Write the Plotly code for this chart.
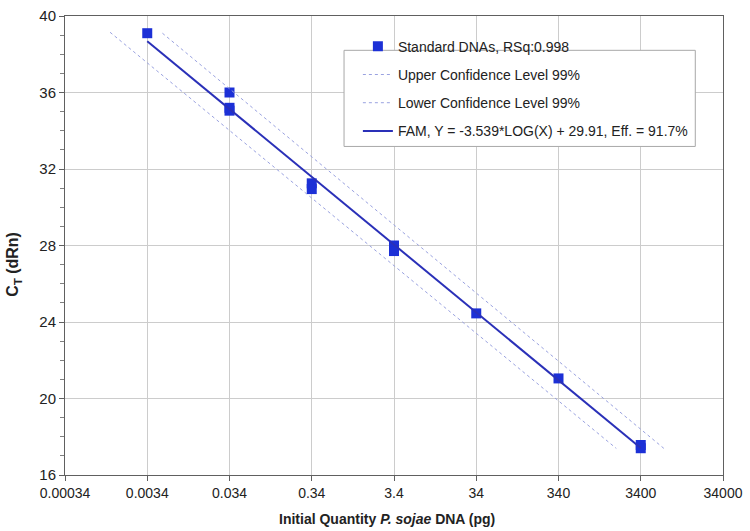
import plotly.graph_objects as go

# Standard DNA data points
std_x = [0.0034, 0.034, 0.034, 0.034, 0.34, 0.34, 3.4, 3.4, 34, 340, 3400, 3400]
std_y = [39.10, 36.0, 35.2, 35.05, 31.25, 30.95, 28.0, 27.71, 24.45, 21.05, 17.57, 17.40]

# Fitted line endpoints (FAM, Y = -3.539*LOG(X) + 29.91)
fit_x = [0.0034, 3400]
fit_y = [38.68, 17.41]

# 99% confidence lines
upper_x = [0.0052, 6500]
upper_y = [39.10, 17.39]
lower_x = [0.0012, 1715]
lower_y = [39.15, 17.39]

tick_vals = [0.00034, 0.0034, 0.034, 0.34, 3.4, 34, 340, 3400, 34000]
tick_text = ["0.00034", "0.0034", "0.034", "0.34", "3.4", "34", "340", "3400", "34000"]
y_ticks = [16, 20, 24, 28, 32, 36, 40]

FONT = "Liberation Sans, Arial, sans-serif"
TXT = "#222222"

fig = go.Figure()
fig.add_trace(go.Scatter(
    x=std_x, y=std_y, mode="markers", name="Standard DNAs, RSq:0.998",
    legendgroup="a",
    marker=dict(symbol="square", size=10, color="#1c30d6"),
))
fig.add_trace(go.Scatter(
    x=upper_x, y=upper_y, mode="lines", name="Upper Confidence Level 99%",
    legendgroup="b",
    line=dict(color="#9aa2e0", width=1, dash="dot"),
))
fig.add_trace(go.Scatter(
    x=lower_x, y=lower_y, mode="lines", name="Lower Confidence Level 99%",
    legendgroup="c",
    line=dict(color="#9aa2e0", width=1, dash="dot"),
))
fig.add_trace(go.Scatter(
    x=fit_x, y=fit_y, mode="lines", name="FAM, Y = -3.539*LOG(X) + 29.91, Eff. = 91.7%",
    legendgroup="d",
    line=dict(color="#2a30b8", width=2),
))

L, R, T, B = 65, 20, 7, 56
W, H = 750, 531
pw, ph = W - L - R, H - T - B

def px_x(p):
    return (p - L) / pw

def px_y(p):
    return (H - B - p) / ph

fig.update_layout(
    width=W, height=H,
    margin=dict(l=L, r=R, t=T, b=B),
    paper_bgcolor="white", plot_bgcolor="white",
    font=dict(family=FONT, size=14, color=TXT),
    showlegend=True,
    legend=dict(
        x=px_x(361), y=px_y(22), xanchor="left", yanchor="top",
        bgcolor="rgba(0,0,0,0)", borderwidth=0,
        traceorder="grouped", tracegroupgap=7,
        font=dict(family=FONT, size=14, color=TXT),
    ),
    shapes=[dict(
        type="rect", xref="paper", yref="paper",
        x0=px_x(347), x1=px_x(702), y0=px_y(140), y1=px_y(42),
        fillcolor="white", line=dict(color="#a8a8a8", width=1), layer="above",
    )],
    annotations=[
        dict(text="<b>Initial Quantity <i>P. sojae</i> DNA (pg)</b>",
             xref="paper", yref="paper", x=px_x(390), y=px_y(520),
             xanchor="center", yanchor="middle", showarrow=False,
             font=dict(family=FONT, size=14, color=TXT)),
        dict(text="<b>C<sub>T</sub> (dRn)</b>",
             xref="paper", yref="paper", x=px_x(13), y=px_y(260),
             xanchor="center", yanchor="middle", showarrow=False, textangle=-90,
             font=dict(family=FONT, size=16, color=TXT)),
    ],
    xaxis=dict(
        type="log", range=[-3.4685, 4.5315],
        tickvals=tick_vals, ticktext=tick_text,
        showgrid=True, gridcolor="#cccccc", gridwidth=1,
        showline=True, linecolor="#606060", linewidth=1, mirror=True,
        ticks="outside", ticklen=5, tickcolor="#606060",
        ticklabeloverflow="allow",
        tickfont=dict(family=FONT, size=14, color=TXT),
        zeroline=False,
    ),
    yaxis=dict(
        range=[16, 40], tickvals=y_ticks,
        showgrid=True, gridcolor="#cccccc", gridwidth=1,
        showline=True, linecolor="#606060", linewidth=1, mirror=True,
        ticks="outside", ticklen=5, tickcolor="#606060",
        minor=dict(dtick=1, ticks="outside", ticklen=4, tickcolor="#808080", showgrid=False),
        ticklabeloverflow="allow",
        tickfont=dict(family=FONT, size=15, color=TXT),
        zeroline=False,
    ),
)

fig.write_html(
    "out.html",
    config={"displayModeBar": False},
    post_script="document.body.style.margin='0';document.body.style.overflow='hidden';",
)
